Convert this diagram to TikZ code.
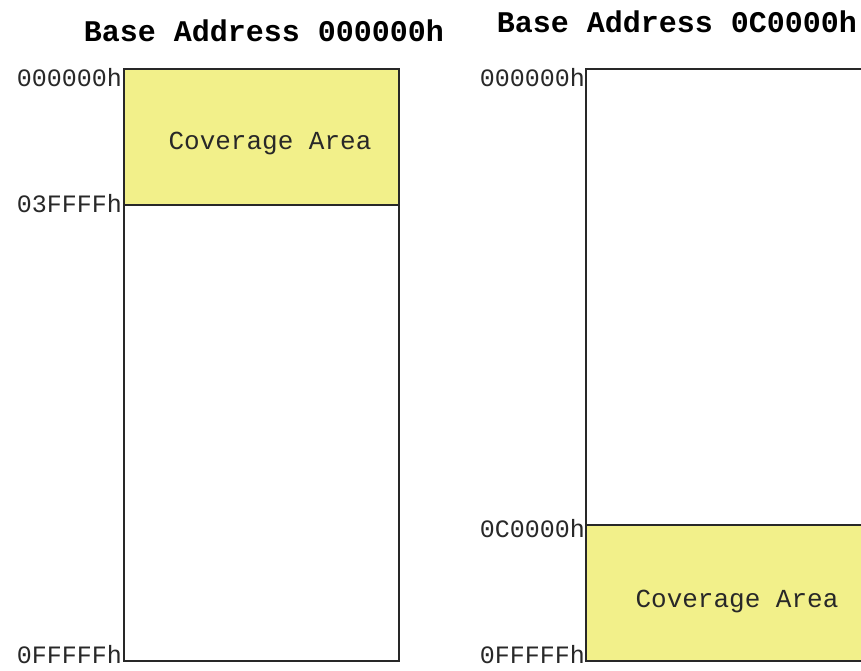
\documentclass[tikz,border=0pt]{standalone}
\usepackage{fontspec}
\setmonofont{Liberation Mono}
\definecolor{cover}{RGB}{242,240,138}
\definecolor{edge}{RGB}{40,40,40}
\begin{document}
\begin{tikzpicture}[x=1pt,y=-1pt,
  addr/.style={font=\ttfamily\fontsize{25}{25}\selectfont, anchor=east, inner sep=0pt, text=edge},
  ttl/.style={font=\ttfamily\bfseries\fontsize{30}{30}\selectfont, inner sep=0pt},
  cov/.style={font=\ttfamily\fontsize{26}{26}\selectfont, inner sep=0pt, text=edge},
  frame/.style={draw=edge, line width=2pt},
  area/.style={fill=cover, draw=edge, line width=2pt}]
\useasboundingbox (0,0) rectangle (861,671);
\fill[white] (0,0) rectangle (861,671);
% left map
\draw[area] (124,69) rectangle (399,205);
\draw[frame] (124,205) rectangle (399,661);
\node[ttl] (t1) at (264,31) {Base Address 000000h};
\node[cov] (c1) at (270,143) {Coverage Area};
\node[addr] (l1) at (122,78) {000000h};
\node[addr] (l2) at (122,204) {03FFFFh};
\node[addr] (l3) at (122,655) {0FFFFFh};
% right map
\draw[frame] (586,69) rectangle (880,525);
\draw[area] (586,525) rectangle (880,661);
\node[ttl] (t2) at (677,22) {Base Address 0C0000h};
\node[cov] (c2) at (737,601) {Coverage Area};
\node[addr] (r1) at (585,78) {000000h};
\node[addr] (r2) at (585,529) {0C0000h};
\node[addr] (r3) at (585,655) {0FFFFFh};
\end{tikzpicture}
\end{document}
